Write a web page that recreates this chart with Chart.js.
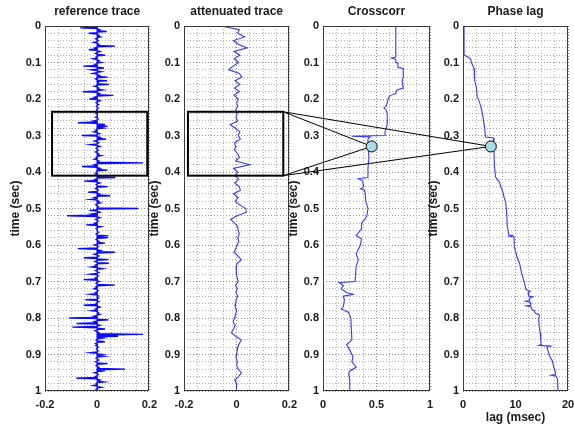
<!DOCTYPE html>
<html>
<head>
<meta charset="utf-8">
<script src="https://cdn.jsdelivr.net/npm/chart.js@4.4.0/dist/chart.umd.min.js"></script>
<style>
  body { margin: 0; background: #fff; }
  #wrap { position: relative; width: 574px; height: 425px; overflow: hidden; background: #fff; }
  #wrap canvas { position: absolute; top: 0; }
</style>
</head>
<body>
<div id="wrap">
  <canvas id="refChart"></canvas>
  <canvas id="attChart"></canvas>
  <canvas id="corrChart"></canvas>
  <canvas id="lagChart"></canvas>
  <canvas id="overlay" width="574" height="425"></canvas>
</div>
<script>
// traces sampled on a regular time axis (sec)
const refStep = 0.005;
const refAmp = [
  0, -0.065, 0.008, 0.037, -0.033, 0.006, 0.012, -0.006, 0.004, -0.012,
  0.006, 0.068, -0.008, -0.032, 0.01, -0.006, 0.03, -0.004, -0.015, 0.006,
  0.015, -0.008, -0.053, 0.026, -0.022, 0.015, -0.016, 0.008, 0.04, -0.006,
  0.038, 0.004, 0.045, -0.01, 0.006, 0.02, -0.055, 0.008, 0.062, -0.01,
  -0.03, 0.01, -0.004, 0.005, -0.003, 0.004, -0.002, 0.003, -0.004, 0.002,
  -0.006, 0.004, -0.012, -0.074, 0.03, 0.04, 0.02, -0.006, -0.012, 0.008,
  -0.058, 0.01, 0.035, -0.01, 0.006, -0.025, 0.01, -0.004, 0.004, -0.006,
  0.005, 0.015, -0.004, -0.01, 0.006, 0.176, -0.01, -0.058, 0.01, 0.04,
  -0.004, -0.006, 0.006, 0.07, -0.008, -0.05, 0.01, -0.004, 0.04, -0.006,
  0.004, -0.035, 0.008, 0.05, -0.01, -0.025, 0.006, 0.012, -0.005, 0.004,
  0.157, -0.03, 0.01, -0.02, -0.115, 0.01, -0.006, 0.004, -0.008, -0.042,
  0.015, -0.004, 0.003, 0.005, -0.004, 0.043, 0.04, -0.004, 0.006, 0.03,
  -0.01, 0.004, -0.074, 0.012, 0.069, -0.01, 0.006, -0.052, 0.043, -0.008,
  0.045, -0.006, -0.02, 0.02, -0.006, 0.006, -0.025, 0.004, -0.006, -0.052,
  0.008, -0.004, 0.068, -0.006, -0.01, 0.004, -0.006, -0.025, 0.004, 0.005,
  -0.045, 0.006, -0.004, -0.052, 0.01, -0.006, -0.02, 0.004, 0.01, -0.012,
  -0.107, 0.043, -0.01, -0.079, 0.01, -0.095, 0.03, -0.008, 0.006, 0.176,
  0.08, 0.02, -0.004, 0.03, -0.006, -0.005, 0.004, -0.003, 0.004, -0.025,
  0.02, 0.025, -0.004, 0.006, -0.006, 0.04, -0.004, 0.006, 0.107, 0.03,
  -0.01, 0.004, -0.006, -0.08, 0.01, 0.025, -0.004, -0.015, 0.015, -0.004,
  0.002
];

const attStep = 0.01;
const attAmp = [
  -0.06, 0.01, 0.004, 0.03, -0.012, 0.006, 0.04, -0.01, 0.012, -0.01,
  0.008, -0.014, -0.03, 0.01, 0.02, -0.006, 0.012, -0.008, 0.01, -0.01,
  0.006, 0, 0.004, -0.004, 0.002, -0.003, 0.004, -0.025, -0.005, 0.012,
  0.006, 0.014, -0.008, -0.004, -0.008, 0.004, 0.01, -0.004, 0.05, -0.012,
  0.004, -0.006, 0.008, -0.008, 0.01, 0.014, -0.012, 0.006, -0.006, 0.012,
  0.034, 0.037, 0.002, -0.023, -0.008, 0.004, 0.006, 0.01, 0.004, 0.008,
  0.002, -0.004, -0.01, 0.004, 0.018, 0.002, -0.002, 0, -0.002, 0.002,
  0.006, -0.004, 0.002, -0.003, 0.004, -0.002, -0.004, -0.006, 0, -0.004,
  -0.008, -0.014, -0.006, -0.012, -0.02, -0.004, 0.018, 0.01, 0.004, 0.002,
  0, -0.002, 0.002, 0, 0.006, 0.018, 0.008, -0.008, 0, -0.002,
  0
];

// crosscorrelation maximum and its lag, tracked with time
const corrTime = [
  0, 0.085, 0.088, 0.092, 0.1, 0.102, 0.114, 0.116, 0.14, 0.15,
  0.17, 0.175, 0.185, 0.19, 0.198, 0.21, 0.22, 0.225, 0.23, 0.24,
  0.27, 0.28, 0.29, 0.3, 0.302, 0.304, 0.31, 0.33, 0.36, 0.39,
  0.415, 0.418, 0.425, 0.44, 0.446, 0.45, 0.48, 0.5, 0.52, 0.53,
  0.54, 0.556, 0.574, 0.583, 0.6, 0.624, 0.64, 0.66, 0.7, 0.703,
  0.711, 0.72, 0.73, 0.735, 0.74, 0.75, 0.77, 0.775, 0.785, 0.8,
  0.86, 0.873, 0.888, 0.906, 0.92, 0.935, 0.945, 0.954, 0.97, 1
];
const corrValue = [
  0.68, 0.68, 0.64, 0.68, 0.68, 0.7, 0.7, 0.75, 0.75, 0.74,
  0.75, 0.69, 0.68, 0.63, 0.61, 0.6, 0.59, 0.57, 0.59, 0.6,
  0.6, 0.59, 0.58, 0.58, 0.27, 0.44, 0.42, 0.42, 0.43, 0.42,
  0.42, 0.33, 0.37, 0.38, 0.35, 0.39, 0.4, 0.42, 0.41, 0.39,
  0.36, 0.36, 0.31, 0.36, 0.35, 0.31, 0.33, 0.31, 0.3, 0.15,
  0.19, 0.17, 0.22, 0.28, 0.19, 0.2, 0.19, 0.17, 0.24, 0.26,
  0.27, 0.22, 0.25, 0.28, 0.27, 0.31, 0.25, 0.24, 0.25, 0.25
];

const lagTime = [
  0, 0.08, 0.085, 0.09, 0.1, 0.116, 0.148, 0.167, 0.194, 0.203,
  0.221, 0.24, 0.258, 0.277, 0.304, 0.307, 0.34, 0.386, 0.414, 0.427,
  0.44, 0.455, 0.468, 0.482, 0.505, 0.542, 0.572, 0.574, 0.576, 0.578,
  0.606, 0.633, 0.652, 0.679, 0.698, 0.722, 0.727, 0.73, 0.74, 0.742,
  0.745, 0.752, 0.754, 0.757, 0.765, 0.767, 0.77, 0.778, 0.78, 0.788,
  0.79, 0.795, 0.8, 0.82, 0.84, 0.86, 0.873, 0.875, 0.877, 0.88,
  0.9, 0.91, 0.917, 0.935, 0.948, 0.955, 0.957, 0.959, 0.967, 1
];
const lagValue = [
  0.2, 0.2, 0.95, 1.46, 1.6, 2.1, 2.2, 2.54, 2.7, 3.0,
  3.4, 3.7, 3.9, 4.1, 4.3, 5.8, 5.9, 6.0, 6.2, 6.9,
  7.2, 7.6, 7.8, 8.1, 8.3, 8.4, 8.7, 9.4, 8.8, 9.7,
  9.8, 10.3, 10.8, 11.2, 11.6, 12.0, 12.8, 12.4, 12.5, 13.3,
  12.7, 12.7, 11.9, 12.8, 12.9, 12.0, 13.0, 13.2, 13.6, 13.8,
  14.4, 14.6, 14.4, 14.5, 14.7, 14.8, 14.9, 14.5, 16.7, 16.0,
  16.4, 16.7, 17.0, 17.3, 17.6, 17.6, 16.8, 17.7, 18.0, 18.1
];

const panelTitles = ['reference trace', 'attenuated trace', 'Crosscorr', 'Phase lag'];
const timeTickLabels = ['0', '0.1', '0.2', '0.3', '0.4', '0.5', '0.6', '0.7', '0.8', '0.9', '1'];
const ampTickLabels = ['-0.2', '0', '0.2'];
const corrTickLabels = ['0', '0.5', '1'];
const lagTickLabels = ['0', '10', '20'];

// analysis window and the picked point it maps to
const windowTime = [0.235, 0.41];
const refWindowAmp = [-0.173, 0.192];
const attWindowAmp = [-0.185, 0.177];
const pickTime = 0.33;
const pickCorr = 0.455;
const pickLag = 5.3;

const FONT = '"Liberation Sans", Arial, sans-serif';
const Y_AXIS_W = 45, X_AXIS_H = 34, RIGHT_PAD = 14, TOP_PAD = 26;
const SPIKE_HALF = 0.0018;   // half width (sec) of each reflection spike

// box round the plot area, like matlab's "box on"
const axesBox = {
  id: 'axesBox',
  afterDraw(chart) {
    const a = chart.chartArea, ctx = chart.ctx;
    ctx.save();
    ctx.strokeStyle = '#3a3a3a';
    ctx.lineWidth = 1;
    ctx.strokeRect(Math.round(a.left) + 0.5, Math.round(a.top) + 0.5,
                   Math.round(a.width) - 1, Math.round(a.height) - 1);
    ctx.restore();
  }
};

// title centred over the plot area instead of the whole canvas
const panelTitle = {
  id: 'panelTitle',
  afterDraw(chart, args, opts) {
    const a = chart.chartArea, ctx = chart.ctx;
    ctx.save();
    ctx.font = 'bold 12px ' + FONT;
    ctx.fillStyle = '#1a1a1a';
    ctx.textAlign = 'center';
    ctx.textBaseline = 'middle';
    ctx.fillText(opts.text, (a.left + a.right) / 2, 12);
    ctx.restore();
  }
};

function gridTicks(labels, divisions) {
  const lo = Number(labels[0]), hi = Number(labels[labels.length - 1]);
  const out = [];
  for (let i = 0; i <= divisions; i++) {
    const v = +(lo + (hi - lo) * i / divisions).toFixed(6);
    out.push({ value: v, major: labels.some(l => Math.abs(Number(l) - v) < 1e-9) });
  }
  return out;
}

function tickText(labels) {
  return v => {
    const hit = labels.find(l => Math.abs(Number(l) - v) < 1e-9);
    return hit === undefined ? '' : hit;
  };
}

function buildPanel(id, cfg) {
  const canvas = document.getElementById(id);
  canvas.width = Y_AXIS_W + cfg.plotWidth + RIGHT_PAD;
  canvas.height = 425;
  canvas.style.left = (cfg.plotLeft - Y_AXIS_W) + 'px';

  const gridColor = c => (c.tick && c.tick.major) ? '#8c8c8c' : '#adadad';

  return new Chart(canvas, {
    type: 'scatter',
    data: {
      datasets: [{
        data: cfg.points,
        showLine: true,
        borderColor: cfg.color,
        borderWidth: cfg.lineWidth,
        pointRadius: 0,
        tension: 0
      }]
    },
    options: {
      responsive: false,
      animation: false,
      layout: { padding: { right: RIGHT_PAD, left: 0, top: TOP_PAD, bottom: 0 } },
      plugins: {
        legend: { display: false },
        tooltip: { enabled: false },
        title: { display: false },
        panelTitle: { text: cfg.title }
      },
      scales: {
        x: {
          type: 'linear',
          min: Number(cfg.xLabels[0]),
          max: Number(cfg.xLabels[cfg.xLabels.length - 1]),
          afterBuildTicks: s => { s.ticks = gridTicks(cfg.xLabels, 8); },
          afterFit: s => { s.height = X_AXIS_H; },
          ticks: {
            autoSkip: false, maxRotation: 0, padding: 7,
            color: '#1a1a1a',
            font: { family: FONT, size: 11, weight: 'bold' },
            callback: tickText(cfg.xLabels)
          },
          grid: { color: gridColor, drawTicks: false, lineWidth: 1 },
          border: { display: false, dash: [1, 2] },
          title: {
            display: !!cfg.xTitle,
            text: cfg.xTitle || '',
            color: '#1a1a1a',
            font: { family: FONT, size: 12, weight: 'bold' },
            padding: { top: 0, bottom: 0 }
          }
        },
        y: {
          type: 'linear',
          reverse: true,
          min: 0,
          max: 1,
          afterBuildTicks: s => { s.ticks = gridTicks(timeTickLabels, 50); },
          afterFit: s => { s.width = Y_AXIS_W; },
          ticks: {
            autoSkip: false, padding: 4,
            color: '#1a1a1a',
            font: { family: FONT, size: 11, weight: 'bold' },
            callback: tickText(timeTickLabels)
          },
          grid: { color: gridColor, drawTicks: false, lineWidth: 1 },
          border: { display: false, dash: [1, 2] },
          title: {
            display: true,
            text: 'time (sec)',
            color: '#1a1a1a',
            font: { family: FONT, size: 12, weight: 'bold' },
            padding: { top: 8, bottom: 0 }
          }
        }
      }
    },
    plugins: [axesBox, panelTitle]
  });
}

// reflectivity drawn as narrow spikes leaving the zero line
const refPoints = refAmp.flatMap((v, i) => {
  const t = i * refStep;
  return [{ x: 0, y: t - SPIKE_HALF }, { x: v, y: t }, { x: 0, y: t + SPIKE_HALF }];
});
const attPoints = attAmp.map((v, i) => ({ x: v, y: +(i * attStep).toFixed(4) }));
const corrPoints = corrTime.map((t, i) => ({ x: corrValue[i], y: t }));
const lagPoints = lagTime.map((t, i) => ({ x: lagValue[i], y: t }));

const refChart = buildPanel('refChart', {
  plotLeft: 45, plotWidth: 105, title: panelTitles[0], xLabels: ampTickLabels,
  points: refPoints, color: '#0a0aff', lineWidth: 1.4
});
const attChart = buildPanel('attChart', {
  plotLeft: 184, plotWidth: 106, title: panelTitles[1], xLabels: ampTickLabels,
  points: attPoints, color: '#3b3bf0', lineWidth: 1.1
});
const corrChart = buildPanel('corrChart', {
  plotLeft: 323, plotWidth: 107, title: panelTitles[2], xLabels: corrTickLabels,
  points: corrPoints, color: '#3b3bf0', lineWidth: 1.1
});
const lagChart = buildPanel('lagChart', {
  plotLeft: 463, plotWidth: 105, title: panelTitles[3], xLabels: lagTickLabels,
  points: lagPoints, color: '#3b3bf0', lineWidth: 1.1, xTitle: 'lag (msec)'
});

// window boxes, connector lines and picked points across the panels
function toPage(chart, id, xv, yv) {
  const left = parseFloat(document.getElementById(id).style.left);
  return [left + chart.scales.x.getPixelForValue(xv), chart.scales.y.getPixelForValue(yv)];
}

function drawOverlay() {
  const ctx = document.getElementById('overlay').getContext('2d');
  ctx.strokeStyle = '#000';

  const boxes = [
    [refChart, 'refChart', refWindowAmp],
    [attChart, 'attChart', attWindowAmp]
  ];
  let attCorners = null;
  boxes.forEach(([chart, id, amp]) => {
    const p0 = toPage(chart, id, amp[0], windowTime[0]);
    const p1 = toPage(chart, id, amp[1], windowTime[1]);
    ctx.lineWidth = 2;
    ctx.strokeRect(p0[0], p0[1], p1[0] - p0[0], p1[1] - p0[1]);
    attCorners = [[p1[0], p0[1]], [p1[0], p1[1]]];
  });

  const marks = [
    toPage(corrChart, 'corrChart', pickCorr, pickTime),
    toPage(lagChart, 'lagChart', pickLag, pickTime)
  ];
  ctx.lineWidth = 1;
  marks.forEach(m => {
    attCorners.forEach(c => {
      ctx.beginPath();
      ctx.moveTo(c[0], c[1]);
      ctx.lineTo(m[0], m[1]);
      ctx.stroke();
    });
  });
  marks.forEach(m => {
    ctx.beginPath();
    ctx.arc(m[0], m[1], 5.5, 0, Math.PI * 2);
    ctx.fillStyle = '#a9dde6';
    ctx.fill();
    ctx.lineWidth = 1;
    ctx.stroke();
  });
}

drawOverlay();
</script>
</body>
</html>
